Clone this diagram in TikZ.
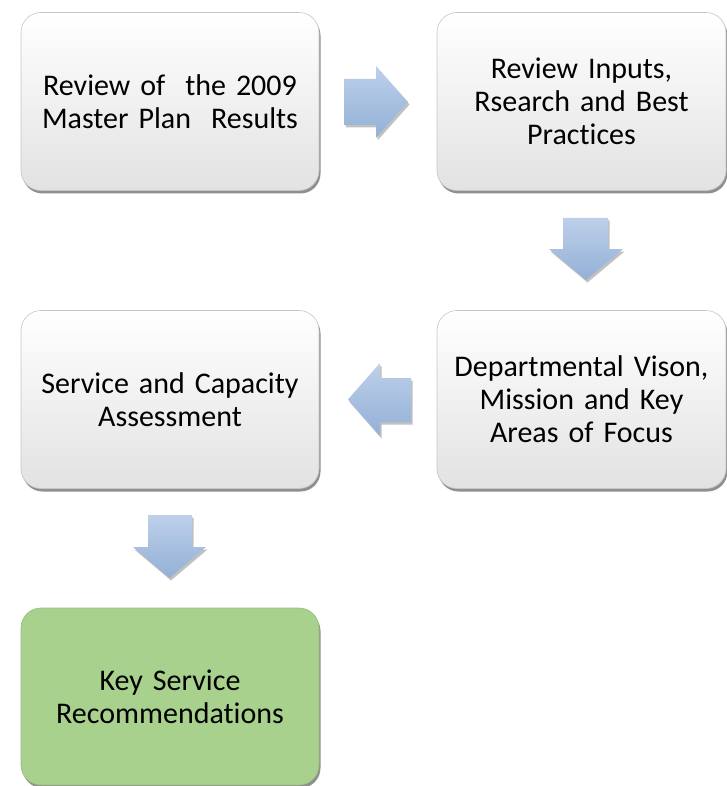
\documentclass[tikz,border=0pt]{standalone}
\usepackage{fontspec}
\setmainfont{Carlito}[Ligatures=NoCommon]
\usetikzlibrary{shadows,shapes.arrows}
\definecolor{boxbot}{RGB}{226,226,226}
\definecolor{arrtop}{RGB}{190,208,234}
\definecolor{arrbot}{RGB}{146,176,214}
\definecolor{keygreen}{RGB}{169,209,142}
\tikzset{
  stepbox/.style={rectangle, rounded corners=20pt, draw=gray!45, line width=0.6pt,
    top color=white, bottom color=boxbot,
    drop shadow={shadow xshift=1.5pt, shadow yshift=-3pt, opacity=0.55, fill=black!80},
    align=center, font=\fontsize{30pt}{33pt}\selectfont, text width=275pt},
  greenbox/.style={stepbox, top color=keygreen, bottom color=keygreen, draw=keygreen!90!black},
  blockarrow/.style={top color=arrtop, bottom color=arrbot, draw=none,
    drop shadow={shadow xshift=1.5pt, shadow yshift=-2.5pt, opacity=0.35, fill=black!70}}
}
\begin{document}
\begin{tikzpicture}[x=1pt,y=-1pt]
\useasboundingbox (0,0) rectangle (727,786);
\node[stepbox, minimum width=298pt, minimum height=178pt] (b1) at (170,101.5)
  {Review of\ \ the 2009\\Master Plan\ \ Results};
\node[stepbox, minimum width=289pt, minimum height=178pt] (b2) at (581.5,101.5)
  {Review Inputs,\\Rsearch and Best\\Practices};
\node[stepbox, minimum width=289pt, minimum height=178pt] (b4) at (581.5,399.5)
  {Departmental Vison,\\Mission and Key\\Areas of Focus};
\node[stepbox, minimum width=298pt, minimum height=178pt] (b3) at (170,399.5)
  {Service and Capacity\\Assessment};
\node[greenbox, minimum width=298pt, minimum height=177pt] (b5) at (170,696.5)
  {Key Service\\Recommendations};
% block arrows
\path[blockarrow] (344,79) -- (376,79) -- (376,66) -- (408,102) -- (376,138) -- (376,125) -- (344,125) -- cycle;
\path[blockarrow] (563,218) -- (608,218) -- (608,249) -- (623,249) -- (586,280) -- (549,249) -- (563,249) -- cycle;
\path[blockarrow] (411,378) -- (380,378) -- (380,363) -- (348,399.5) -- (380,436) -- (380,422) -- (411,422) -- cycle;
\path[blockarrow] (148,515) -- (192,515) -- (192,547) -- (206,547) -- (169.5,578) -- (133,547) -- (148,547) -- cycle;
\end{tikzpicture}
\end{document}
